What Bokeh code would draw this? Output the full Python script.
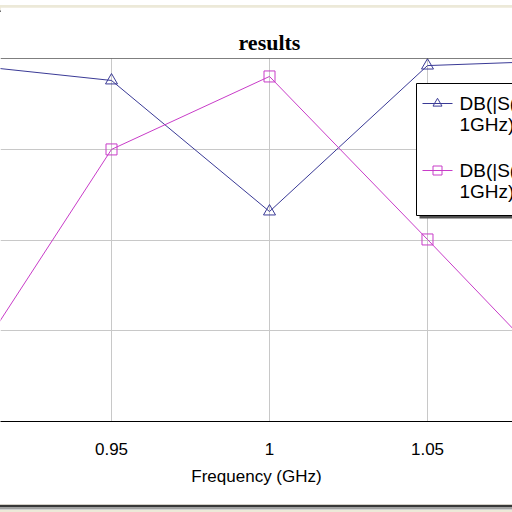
from bokeh.plotting import figure
from bokeh.models import Range1d, FixedTicker, Span, Div
from bokeh.layouts import column
from bokeh.core.properties import value
from bokeh.embed import file_html
from bokeh.resources import INLINE

# ---- data ----
freq = [0.9, 0.95, 1.0, 1.05, 1.1]
s11_db = [-0.28, -1.21, -8.43, -0.39, -0.08]
s21_db = [-18.4, -5.01, -0.99, -9.97, -19.06]
x_ticks = [0.95, 1.0, 1.05]
x_tick_labels = ["0.95", "1", "1.05"]
y_ticks = [-20, -15, -10, -5, 0]
legend_line1 = ["DB(|S(1,1)|)", "DB(|S(2,1)|)"]
legend_line2 = ["1GHz)", "1GHz)"]
title_text = "results"
x_label = "Frequency (GHz)"

BLUE = "#3a3a96"
PINK = "#c83cc8"

X0, X1 = 0.91487, 1.0769
Y0, Y1 = -20.0, 0.0
FRAME_TOP, FRAME_H, FRAME_W = 58.0, 363.0, 512.0


def dx(px):
    return X0 + px / FRAME_W * (X1 - X0)


def dy(py):
    return Y1 - (py - FRAME_TOP) / FRAME_H * (Y1 - Y0)


p = figure(width=512, height=495, output_backend="svg", toolbar_location=None,
           x_range=Range1d(X0, X1), y_range=Range1d(Y0, Y1),
           min_border_left=0, min_border_right=0,
           min_border_top=51, min_border_bottom=81)
p.outline_line_color = None
p.background_fill_color = "white"
p.border_fill_color = "white"

p.title.text = title_text
p.title.align = "left"
p.title.offset = 238
p.title.standoff = 7
p.title.text_font = "Liberation Serif"
p.title.text_font_style = "bold"
p.title.text_font_size = "22px"
p.title.text_color = "black"

p.yaxis.visible = False
p.ygrid.ticker = FixedTicker(ticks=y_ticks)
p.xaxis.ticker = FixedTicker(ticks=x_ticks)
p.xgrid.ticker = FixedTicker(ticks=x_ticks)
p.grid.grid_line_color = "#c8c8c8"
p.grid.grid_line_width = 1

ax = p.xaxis[0]
ax.major_label_overrides = dict(zip(x_ticks, x_tick_labels))
ax.axis_line_color = "black"
ax.major_tick_in = 0
ax.major_tick_out = 0
ax.minor_tick_in = 0
ax.minor_tick_out = 0
ax.major_label_standoff = 21
ax.major_label_text_font = "Liberation Sans"
ax.major_label_text_font_size = "17px"
ax.major_label_text_color = "black"
ax.axis_label = x_label
ax.axis_label_text_font = "Liberation Sans"
ax.axis_label_text_font_size = "17px"
ax.axis_label_text_font_style = "normal"
ax.axis_label_text_color = "black"
ax.axis_label_standoff = 9

p.add_layout(Span(location=Y1, dimension="width", line_color="black", line_width=1))

# data series
p.line(freq, s11_db, line_color=BLUE, line_width=1)
p.scatter(freq, s11_db, marker="triangle", size=12, line_color=BLUE, fill_color=None, line_width=1)
p.line(freq, s21_db, line_color=PINK, line_width=1)
p.scatter(freq, s21_db, marker="square", size=11, line_color=PINK, fill_color=None, line_width=1)

# legend (drawn by hand so the two-line labels match)
p.quad(left=[dx(419)], right=[dx(540)], top=[dy(86)], bottom=[dy(218)],
       fill_color="#505050", line_color=None)
p.quad(left=[dx(416)], right=[dx(537)], top=[dy(83)], bottom=[dy(215)],
       fill_color="white", line_color="black", line_width=1)
entry_y = [103, 170]
colors = [BLUE, PINK]
markers = ["triangle", "square"]
for i in range(2):
    yy = dy(entry_y[i])
    p.line([dx(422), dx(452)], [yy, yy], line_color=colors[i], line_width=1)
    p.scatter([dx(437)], [yy], marker=markers[i], size=9, line_color=colors[i], fill_color=None)
    p.text([dx(459)], [yy], text=[legend_line1[i]], text_font=value("Liberation Sans"),
           text_font_size="19px", text_baseline="middle", text_align="left", text_color="black")
    p.text([dx(459)], [dy(entry_y[i] + 21)], text=[legend_line2[i]], text_font=value("Liberation Sans"),
           text_font_size="19px", text_baseline="middle", text_align="left", text_color="black")


def stripes(spec):
    return "".join('<div style="width:512px;height:%dpx;background:%s"></div>' % (h, c) for h, c in spec)


top_bar = Div(text=stripes([(5, "#ece9d8"), (1, "#8c8c8c"), (1, "#404040")]),
              width=512, height=7, margin=0)
bottom_bar = Div(text=stripes([(1, "#d4d0c8"), (2, "#383838"), (2, "#a0a0a0"),
                               (1, "#d0d0d0"), (4, "#ece9d8")]),
                 width=512, height=10, margin=0)

layout = column(top_bar, p, bottom_bar, spacing=0)
open("out.html", "w").write(file_html(layout, INLINE))
